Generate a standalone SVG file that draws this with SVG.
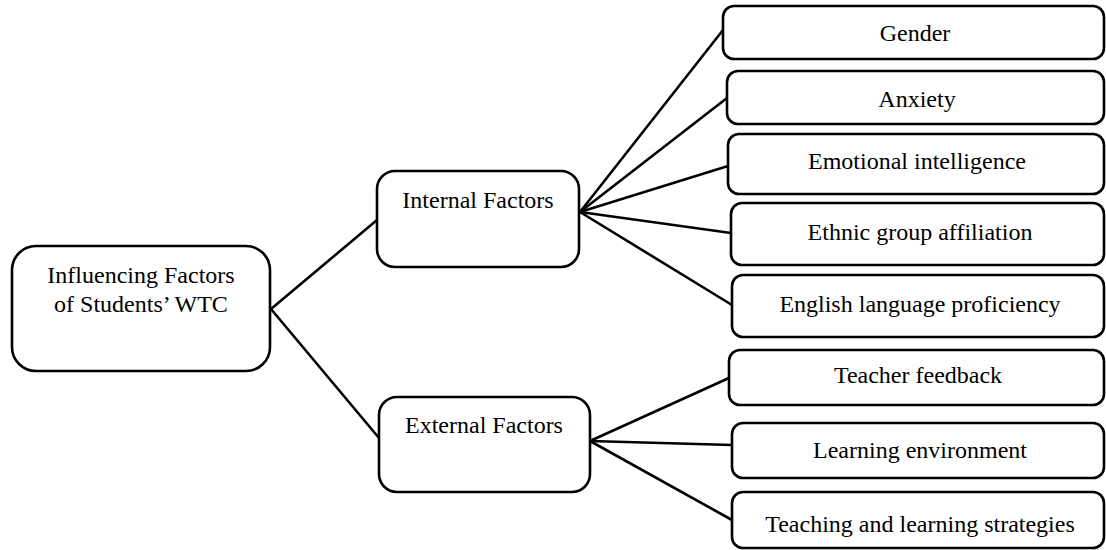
<svg xmlns="http://www.w3.org/2000/svg" width="1106" height="550" viewBox="0 0 1106 550">
<style>
.box{fill:#fff;stroke:#000;stroke-width:2.6}
.lbl{font-family:"Liberation Serif","Times New Roman",serif;font-size:24px;fill:#000;text-anchor:middle}
.conn line{stroke:#000;stroke-width:2.6;stroke-linecap:round}
</style>
<rect width="1106" height="550" fill="#fff"/>
<g class="conn" id="connectors">
<line x1="271" y1="309" x2="377" y2="220"/>
<line x1="271" y1="309" x2="379" y2="438"/>
<line x1="580" y1="212" x2="723" y2="30"/>
<line x1="580" y1="212" x2="727" y2="98"/>
<line x1="580" y1="212" x2="728" y2="166"/>
<line x1="580" y1="212" x2="731" y2="233"/>
<line x1="580" y1="212" x2="732" y2="305"/>
<line x1="590" y1="441" x2="729" y2="378"/>
<line x1="590" y1="441" x2="732" y2="445"/>
<line x1="590" y1="441" x2="732" y2="520"/>
</g>
<g id="root">
<rect class="box" x="12" y="246" width="258" height="125" rx="24"/>
<text class="lbl" x="141" y="283">Influencing Factors</text>
<text class="lbl" x="141" y="312">of Students’ WTC</text>
</g>
<g id="internal">
<rect class="box" x="377" y="171" width="202" height="96" rx="18"/>
<text class="lbl" x="478" y="208">Internal Factors</text>
</g>
<g id="external">
<rect class="box" x="379" y="397" width="211" height="95" rx="18"/>
<text class="lbl" x="484" y="433">External Factors</text>
</g>
<g id="gender">
<rect class="box" x="723" y="6" width="381" height="53" rx="11"/>
<text class="lbl" x="915" y="41">Gender</text>
</g>
<g id="anxiety">
<rect class="box" x="727" y="71" width="377" height="53" rx="11"/>
<text class="lbl" x="917" y="107">Anxiety</text>
</g>
<g id="emotional">
<rect class="box" x="728" y="134" width="376" height="60" rx="11"/>
<text class="lbl" x="917" y="169">Emotional intelligence</text>
</g>
<g id="ethnic">
<rect class="box" x="731" y="203" width="373" height="62" rx="11"/>
<text class="lbl" x="920" y="240">Ethnic group affiliation</text>
</g>
<g id="english">
<rect class="box" x="732" y="275" width="372" height="62" rx="11"/>
<text class="lbl" x="920" y="312">English language proficiency</text>
</g>
<g id="teacher">
<rect class="box" x="729" y="350" width="375" height="55" rx="11"/>
<text class="lbl" x="918" y="383">Teacher feedback</text>
</g>
<g id="learning">
<rect class="box" x="732" y="423" width="372" height="55" rx="11"/>
<text class="lbl" x="920" y="458">Learning environment</text>
</g>
<g id="teaching">
<rect class="box" x="732" y="492" width="372" height="56" rx="11"/>
<text class="lbl" x="920" y="532">Teaching and learning strategies</text>
</g>
</svg>
